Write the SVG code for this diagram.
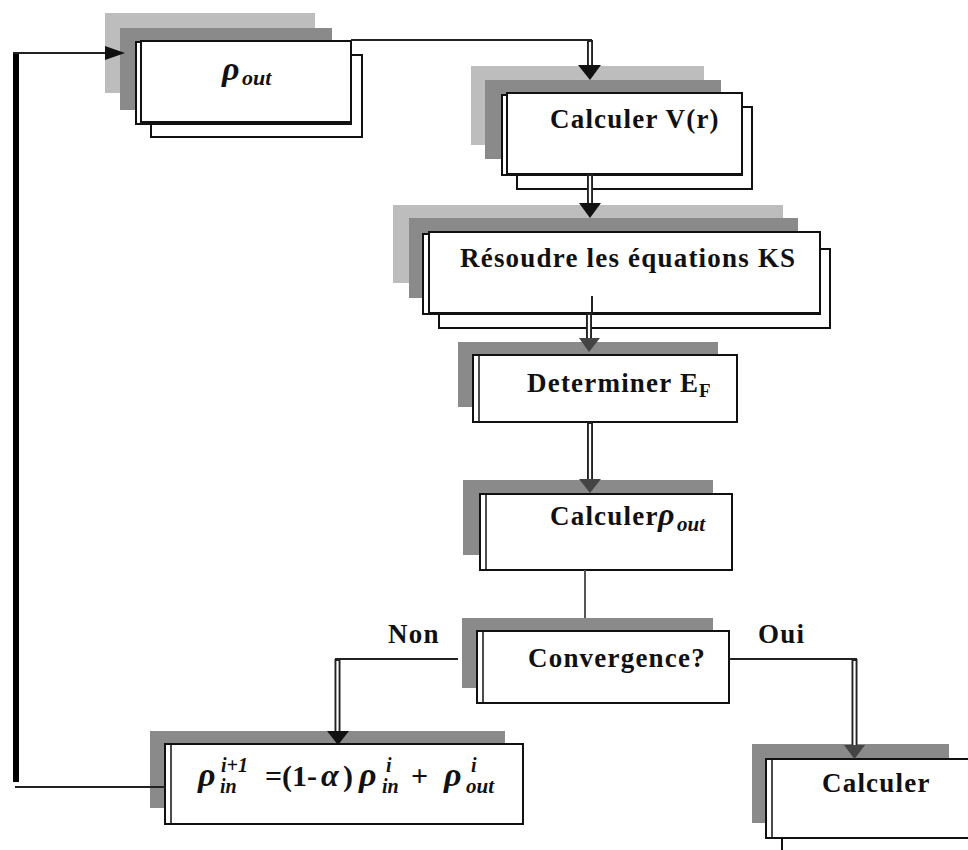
<svg xmlns="http://www.w3.org/2000/svg" width="968" height="850" viewBox="0 0 968 850">
<style>
.lg{fill:#bdbdbd}
.dg{fill:#8a8a8a}
.box{fill:#fff;stroke:#111;stroke-width:2}
.thin{fill:none;stroke:#111;stroke-width:1.5}
text{font-family:'Liberation Serif','DejaVu Serif',serif}
.lbl{font-weight:bold;font-size:27px;letter-spacing:1.2px;fill:#111}
.m{font-weight:bold;font-style:italic;fill:#111;letter-spacing:0}
.up{font-weight:bold;font-style:normal;fill:#111;letter-spacing:0}
.ln{fill:none;stroke:#222;stroke-width:2}
.dbo{fill:none;stroke:#222;stroke-width:6}
.dbi{fill:none;stroke:#fff;stroke-width:2.2}
.ah{fill:#111}
.ahg{fill:#444}
</style>
<g id="node-rho-out">
  <rect class="lg" x="105" y="13" width="210" height="80"/>
  <rect class="dg" x="120" y="28" width="212" height="82"/>
  <rect class="box" x="151" y="55" width="211" height="82"/>
  <rect class="box" x="136" y="42" width="215" height="82"/>
  <rect class="box" x="141" y="41" width="210" height="81"/>
  <text class="m" font-size="34"><tspan x="222" y="80">ρ</tspan><tspan font-size="22" x="242" y="85">out</tspan></text>
</g>
<g id="node-calc-v">
  <rect class="lg" x="471" y="66" width="233" height="79"/>
  <rect class="dg" x="485" y="80" width="236" height="79"/>
  <rect class="box" x="517" y="107" width="235" height="82"/>
  <rect class="box" x="502" y="95" width="240" height="80"/>
  <rect class="box" x="507" y="93" width="235" height="81"/>
  <text class="lbl" x="550" y="128">Calculer V(r)</text>
</g>
<g id="node-resoudre">
  <rect class="lg" x="393" y="205" width="390" height="78"/>
  <rect class="dg" x="409" y="218" width="389" height="80"/>
  <rect class="box" x="439" y="249" width="391" height="79"/>
  <rect class="box" x="423" y="234" width="397" height="80"/>
  <rect class="box" x="429" y="232" width="391" height="81"/>
  <text class="lbl" x="460" y="267">Résoudre les équations KS</text>
</g>
<g id="node-determiner">
  <rect class="dg" x="458" y="342" width="260" height="65"/>
  <rect class="box" x="473" y="355" width="264" height="67"/>
  <line class="thin" x1="479" y1="355" x2="479" y2="422"/>
  <text class="lbl" x="527" y="392">Determiner E<tspan font-size="19" dy="5" letter-spacing="0">F</tspan></text>
</g>
<g id="node-calc-rho">
  <rect class="dg" x="463" y="480" width="250" height="75"/>
  <rect class="box" x="480" y="494" width="252" height="76"/>
  <line class="thin" x1="486" y1="494" x2="486" y2="570"/>
  <text class="lbl" x="550" y="525">Calculer<tspan class="m" font-size="32" x="658" y="525">ρ</tspan><tspan class="m" font-size="21" x="677" y="531">out</tspan></text>
</g>
<g id="node-convergence">
  <rect class="dg" x="462" y="618" width="251" height="70"/>
  <rect class="box" x="477" y="631" width="252" height="72"/>
  <line class="thin" x1="483" y1="631" x2="483" y2="703"/>
  <text class="lbl" x="528" y="667">Convergence?</text>
</g>
<g id="label-non"><text class="lbl" x="388" y="643" letter-spacing="0.5">Non</text></g>
<g id="label-oui"><text class="lbl" x="758" y="643" letter-spacing="0.5">Oui</text></g>
<g id="node-rho-in">
  <rect class="dg" x="150" y="731" width="355" height="77"/>
  <rect class="box" x="165" y="744" width="358" height="80"/>
  <line class="thin" x1="171" y1="744" x2="171" y2="824"/>
  <text font-size="30"><tspan class="m" font-size="34" x="198" y="786">ρ</tspan><tspan class="m" font-size="20" x="221" y="772">i+1</tspan><tspan class="m" font-size="20" x="220" y="793">in</tspan><tspan class="up" x="265" y="786">=(1-</tspan><tspan class="m" font-size="32" x="321" y="786">α</tspan><tspan class="up" x="343" y="786">)</tspan><tspan class="m" font-size="34" x="359" y="786">ρ</tspan><tspan class="m" font-size="20" x="386" y="772">i</tspan><tspan class="m" font-size="20" x="382" y="793">in</tspan><tspan class="up" x="411" y="786">+</tspan><tspan class="m" font-size="34" x="444" y="786">ρ</tspan><tspan class="m" font-size="20" x="471" y="772">i</tspan><tspan class="m" font-size="21" x="466" y="793">out</tspan></text>
</g>
<g id="node-calculer">
  <rect class="dg" x="752" y="744" width="197" height="79"/>
  <rect class="box" x="782" y="800" width="210" height="70"/>
  <rect class="box" x="766" y="759" width="210" height="79"/>
  <line class="thin" x1="772" y1="759" x2="772" y2="838"/>
  <text class="lbl" x="822" y="792">Calculer</text>
</g>
<g id="connectors">
  <line x1="16" y1="52" x2="16" y2="782" stroke="#000" stroke-width="6"/>
  <line x1="13" y1="53" x2="108" y2="53" class="ln"/>
  <polygon class="ah" points="105,46 125,53 105,60"/>
  <line x1="15" y1="787" x2="165" y2="787" class="ln"/>
  <line x1="351" y1="40" x2="592" y2="40" class="ln"/>
  <path d="M590,40 V67" class="dbo"/><path d="M590,42 V67" class="dbi"/>
  <polygon class="ah" points="578,65 601,65 590,80"/>
  <path d="M590,174 V205" class="dbo"/><path d="M590,176 V205" class="dbi"/>
  <polygon class="ah" points="579,203 601,203 590,218"/>
  <line x1="592" y1="296" x2="592" y2="313" class="ln"/>
  <path d="M589,313 V340" class="dbo"/><path d="M589,315 V340" class="dbi"/>
  <polygon class="ahg" points="579,338 600,338 589,352"/>
  <path d="M590,422 V481" class="dbo"/><path d="M590,424 V481" class="dbi"/>
  <polygon class="ahg" points="579,479 601,479 590,493"/>
  <line x1="585" y1="570" x2="585" y2="618" stroke="#555" stroke-width="2"/>
  <line x1="458" y1="659" x2="335" y2="659" class="ln"/>
  <path d="M337.5,659 V733" class="dbo"/><path d="M337.5,661 V733" class="dbi"/>
  <polygon class="ah" points="327,731 349,731 338,745"/>
  <line x1="729" y1="659" x2="857" y2="659" class="ln"/>
  <path d="M854.5,659 V747" class="dbo"/><path d="M854.5,661 V747" class="dbi"/>
  <polygon class="ahg" points="844,745 865,745 854.5,759"/>
</g>
</svg>
